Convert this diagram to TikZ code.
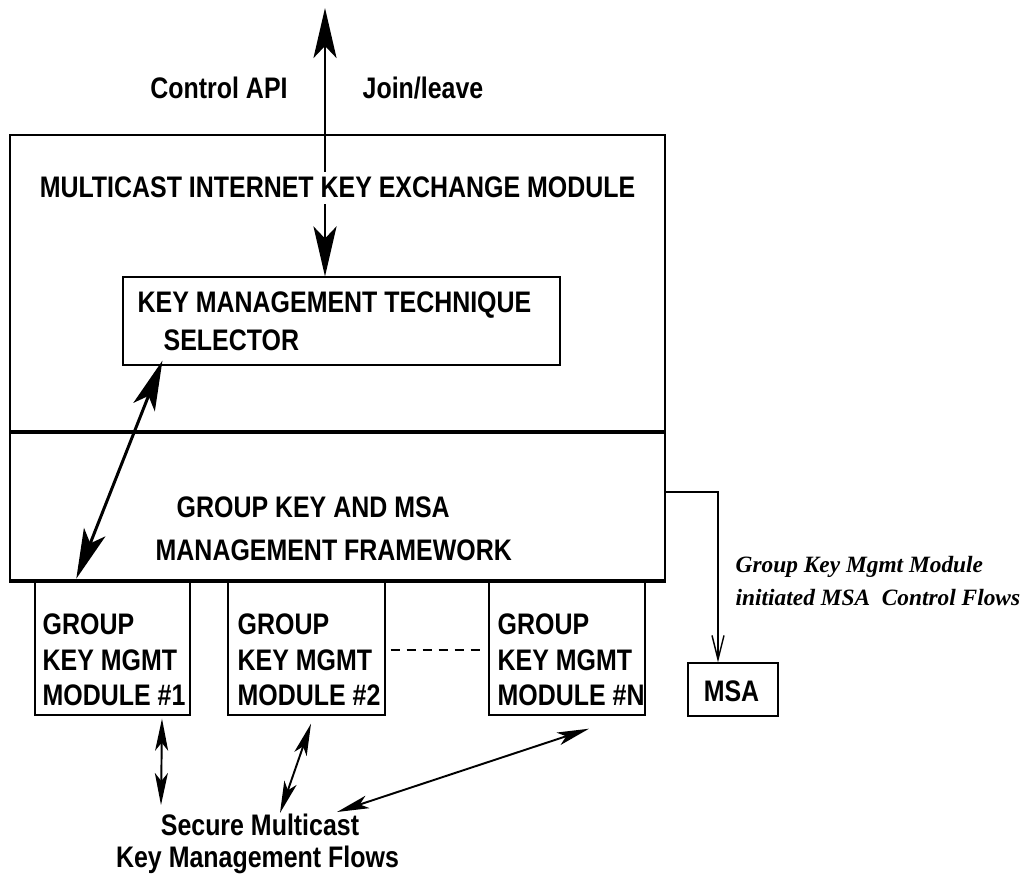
\documentclass[tikz,border=0pt]{standalone}
\usepackage{fontspec}
\setmainfont{Liberation Sans}[FakeStretch=0.84]
\newfontfamily\timesfont{Liberation Serif}
\usetikzlibrary{arrows.meta}
\tikzstyle{box} = [draw, line width=0.4pt, inner sep=0pt]
\tikzstyle{txt} = [inner sep=0pt, font=\fontsize{8.45}{10}\selectfont\bfseries]
\tikzstyle{txtl} = [txt, anchor=west]
\tikzstyle{modtxt} = [txtl, align=left, font=\fontsize{8.45}{10.1}\selectfont\bfseries]
\tikzstyle{itxt} = [inner sep=0pt, anchor=west, font=\fontsize{6.65}{7.8}\selectfont\timesfont\bfseries\itshape]
\tikzstyle{sepline} = [line width=1.2pt]
\tikzstyle{bigarrow} = [line width=0.85pt, -{Stealth[length=0.5cm,width=0.23cm,inset=0.12cm]}]
\tikzstyle{bigdouble} = [line width=0.85pt, {Stealth[length=0.5cm,width=0.23cm,inset=0.12cm]}-{Stealth[length=0.5cm,width=0.23cm,inset=0.12cm]}]
\tikzstyle{flowarrow} = [line width=0.55pt, {Stealth[length=0.32cm,width=0.13cm,inset=0.08cm]}-{Stealth[length=0.32cm,width=0.13cm,inset=0.08cm]}]
\tikzstyle{msaflow} = [line width=0.4pt, -{Straight Barb[length=0.24cm,width=0.12cm]}]

\begin{document}
\begin{tikzpicture}
\useasboundingbox (0,0) rectangle (10.25,-8.75);

% boxes
\node[box, minimum width=6.55cm, minimum height=4.45cm] (mike) at (3.375,-3.575) {};
\node[box, line width=0.3pt, minimum width=4.37cm, minimum height=0.88cm] (selector) at (3.415,-3.21) {};
\node[box, minimum width=1.55cm, minimum height=1.35cm] (gkm1) at (1.125,-6.475) {};
\node[box, minimum width=1.57cm, minimum height=1.35cm] (gkm2) at (3.065,-6.475) {};
\node[box, minimum width=1.56cm, minimum height=1.35cm] (gkmn) at (5.67,-6.475) {};
\node[box, minimum width=0.90cm, minimum height=0.53cm] (msa) at (7.33,-6.895) {};

\coordinate (sep) at (0,-4.32);
\draw[sepline] (mike.west |- sep) -- (mike.east |- sep);
\draw[sepline] (mike.south west) -- (mike.south east);

% texts
\node[txt] (control) at (2.19,-0.88) {Control API};
\node[txt] (join) at (4.23,-0.88) {Join/leave};
\node[txt] (mikelabel) at (3.375,-1.87) {MULTICAST INTERNET KEY EXCHANGE MODULE};
\node[txtl] (kmt) at (1.37,-3.05) {KEY MANAGEMENT TECHNIQUE};
\node[txtl] (sel) at (1.63,-3.40) {SELECTOR};
\node[txtl] (gkmsa) at (1.76,-5.07) {GROUP KEY AND MSA};
\node[txtl] (mgmtfw) at (1.55,-5.50) {MANAGEMENT FRAMEWORK};
\node[modtxt] (gkm1label) at (0.42,-6.60) {GROUP\\KEY MGMT\\MODULE \#1};
\node[modtxt] (gkm2label) at (2.37,-6.60) {GROUP\\KEY MGMT\\MODULE \#2};
\node[modtxt] (gkmnlabel) at (4.97,-6.60) {GROUP\\KEY MGMT\\MODULE \#N};
\node[txt] (msalabel) at (7.315,-6.91) {MSA};
\node[itxt] (ctrlflow1) at (7.35,-5.67) {Group Key Mgmt Module};
\node[itxt] (ctrlflow2) at (7.35,-5.98) {initiated MSA\ \ Control Flows};
\node[txt] (secure) at (2.60,-8.25) {Secure Multicast};
\node[txt] (kmflows) at (2.575,-8.60) {Key Management Flows};

% arrows
\coordinate (api) at (3.25,-0.08);
\draw[bigarrow, shorten <=0.04cm] (api |- mikelabel.north) -- (api);
\draw[bigarrow, shorten <=0.06cm] (api |- mikelabel.south) -- (api |- selector.north);
\draw[bigdouble] ([xshift=0.67cm,yshift=0.02cm]mike.south west) -- ([xshift=0.40cm,yshift=0.05cm]selector.south west);

\coordinate (flow1) at (1.61,-8.05);
\coordinate (flow2) at (2.80,-8.13);
\coordinate (flow3) at (3.37,-8.12);
\draw[flowarrow] ([xshift=0.495cm,yshift=-0.03cm]gkm1.south) -- (flow1);
\draw[flowarrow] ([xshift=0.045cm,yshift=-0.08cm]gkm2.south) -- (flow2);
\draw[flowarrow] ([xshift=0.22cm,yshift=-0.13cm]gkmn.south) -- (flow3);

\coordinate (msaturn) at (7.18,-4.92);
\draw[msaflow] (mike.east |- msaturn) -- (msaturn) -- (msaturn |- msa.north);

\coordinate (gap) at (0,-6.50);
\draw[line width=0.3pt, dash pattern=on 0.09cm off 0.07cm, shorten <=0.05cm, shorten >=0.04cm] (gkm2.east |- gap) -- (gkmn.west |- gap);
\end{tikzpicture}
\end{document}
